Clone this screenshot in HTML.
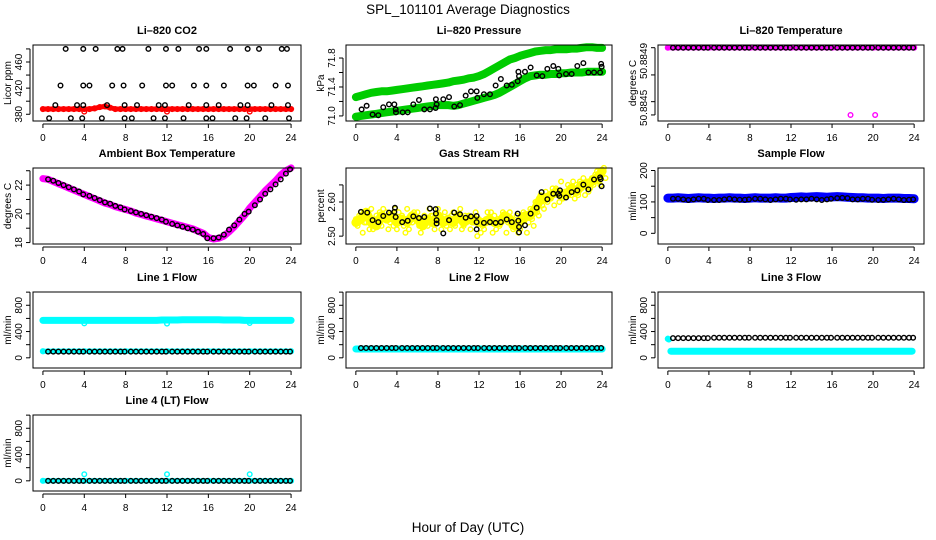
<!DOCTYPE html>
<html><head><meta charset="utf-8"><title>SPL_101101 Average Diagnostics</title>
<style>
html,body{margin:0;padding:0;background:#fff;}
svg{display:block;font-family:"Liberation Sans",Arial,sans-serif;}
</style></head>
<body>
<svg id="chart" width="936" height="540" viewBox="0 0 936 540" xmlns="http://www.w3.org/2000/svg">
<rect width="936" height="540" fill="#fff"/>
<text x="468" y="14" font-size="13.5" text-anchor="middle">SPL_101101  Average Diagnostics</text>
<text x="468" y="532" font-size="13.5" text-anchor="middle">Hour of Day (UTC)</text>
<g id="panels"></g>
</svg>
<script>
// ---------- data ----------
const hours = [0,0.5,1,1.5,2,2.5,3,3.5,4,4.5,5,5.5,6,6.5,7,7.5,8,8.5,9,9.5,10,10.5,11,11.5,12,12.5,13,13.5,14,14.5,15,15.5,16,16.5,17,17.5,18,18.5,19,19.5,20,20.5,21,21.5,22,22.5,23,23.5,24];
const hoursBlack = [0.5,1,1.5,2,2.5,3,3.5,3.9,4.5,5,5.5,6,6.5,7,7.5,7.9,8.5,9,9.5,10,10.5,11,11.5,11.9,12.5,13,13.5,14,14.5,15,15.5,15.9,16.5,17,17.5,18,18.5,19,19.5,19.9,20.5,21,21.5,22,22.5,23,23.5,23.9];
const xTicks = [0,4,8,12,16,20,24];

// CO2
const co2Red = [388,388,388,388,388,388,388,388,388,388,389,391,392,390,388,388,388,388,388,388,388,388,388,388,388,388,388,388,388,388,388,388,388,388,388,388,388,388,388,388,388,388,388,388,388,388,388,388,388];
const co2RedOutX = [4,12,20];
const co2RedOutY = [384,384,384];
const co2BlackX = [2.2,3.9,5.1,7.2,7.7,10.2,11.9,13.1,15.1,15.8,18.1,19.8,20.9,23.1,23.6,
 1.7,3.9,4.5,6.7,7.8,9.6,11.9,12.5,14.6,15.8,17.5,19.8,20.4,22.5,23.7,
 1.2,3.3,3.9,6.2,7.9,9.1,11.2,11.8,14.1,15.8,17.0,19.1,19.8,22.1,23.7,
 0.6,2.7,3.8,5.7,7.9,8.6,10.7,11.8,13.6,15.8,16.4,18.6,19.7,21.5,23.8];
const co2BlackY = [480,480,480,480,480,480,480,480,480,480,480,480,480,480,480,
 424,424,424,424,424,424,424,424,424,424,424,424,424,424,424,
 394,394,394,394,394,394,394,394,394,394,394,394,394,394,394,
 374,374,374,374,374,374,374,374,374,374,374,374,374,374,374];

// Pressure
const presUpper = [71.26,71.28,71.30,71.32,71.33,71.34,71.34,71.35,71.36,71.37,71.38,71.39,71.40,71.41,71.42,71.43,71.44,71.45,71.46,71.48,71.49,71.50,71.52,71.53,71.55,71.58,71.62,71.66,71.70,71.74,71.78,71.80,71.83,71.85,71.87,71.89,71.90,71.91,71.91,71.92,71.92,71.92,71.93,71.93,71.94,71.95,71.95,71.94,71.94];
const presLower = [70.99,71.00,71.01,71.02,71.03,71.04,71.05,71.06,71.07,71.08,71.09,71.10,71.11,71.12,71.13,71.14,71.15,71.15,71.15,71.14,71.15,71.17,71.19,71.21,71.23,71.25,71.27,71.29,71.32,71.36,71.40,71.44,71.48,71.52,71.55,71.56,71.57,71.57,71.58,71.58,71.59,71.59,71.60,71.60,71.60,71.61,71.61,71.61,71.61];
const presBlackX = [0.56,1.05,1.63,2.19,2.67,3.23,3.75,3.88,3.91,4.56,5.05,5.6,6.15,6.67,7.22,7.77,7.8,7.87,8.52,9.08,9.59,10.15,10.7,11.22,11.77,11.84,12.48,13.07,13.62,14.13,14.7,15.2,15.77,15.84,15.9,16.48,17.03,17.62,18.17,18.66,19.24,19.73,19.82,20.48,21.03,21.58,22.17,22.66,23.21,23.8,23.9,23.95];
const presBlackY = [71.09,71.14,71.02,71.01,71.12,71.16,71.16,71.09,71.05,71.05,71.05,71.16,71.22,71.09,71.09,71.11,71.23,71.16,71.23,71.26,71.13,71.15,71.28,71.34,71.34,71.25,71.30,71.30,71.42,71.51,71.42,71.43,71.48,71.61,71.55,71.61,71.67,71.56,71.55,71.65,71.69,71.65,71.56,71.58,71.58,71.69,71.73,71.60,71.60,71.60,71.72,71.68];

// Li-820 temperature
const ltMag = [50.8849,50.8849,50.8849,50.8849,50.8849,50.8849,50.8849,50.8849,50.8849,50.8849,50.8849,50.8849,50.8849,50.8849,50.8849,50.8849,50.8849,50.8849,50.8849,50.8849,50.8849,50.8849,50.8849,50.8849,50.8849,50.8849,50.8849,50.8849,50.8849,50.8849,50.8849,50.8849,50.8849,50.8849,50.8849,50.8849,50.8849,50.8849,50.8849,50.8849,50.8849,50.8849,50.8849,50.8849,50.8849,50.8849,50.8849,50.8849,50.8849];
const ltOutX = [17.8,20.2];
const ltOutY = [50.8845,50.8845];
const ltBlack = [50.8849,50.8849,50.8849,50.8849,50.8849,50.8849,50.8849,50.8849,50.8849,50.8849,50.8849,50.8849,50.8849,50.8849,50.8849,50.8849,50.8849,50.8849,50.8849,50.8849,50.8849,50.8849,50.8849,50.8849,50.8849,50.8849,50.8849,50.8849,50.8849,50.8849,50.8849,50.8849,50.8849,50.8849,50.8849,50.8849,50.8849,50.8849,50.8849,50.8849,50.8849,50.8849,50.8849,50.8849,50.8849,50.8849,50.8849,50.8849];

// Ambient box temperature
const ambMag = [22.45,22.4,22.25,22.1,21.95,21.8,21.65,21.5,21.35,21.2,21.05,20.9,20.75,20.65,20.5,20.4,20.3,20.2,20.05,19.95,19.85,19.75,19.65,19.55,19.45,19.35,19.25,19.15,19.05,18.95,18.8,18.65,18.35,18.25,18.3,18.45,18.75,19.1,19.5,19.9,20.4,20.8,21.2,21.6,21.95,22.3,22.7,23.0,23.2];
const ambBlack = [22.4,22.3,22.15,22.0,21.85,21.7,21.55,21.35,21.25,21.1,20.95,20.8,20.7,20.55,20.45,20.3,20.2,20.1,20.0,19.9,19.8,19.7,19.6,19.45,19.3,19.2,19.1,19.0,18.9,18.75,18.6,18.3,18.3,18.35,18.55,18.9,19.2,19.6,20.0,20.15,20.6,21.0,21.4,21.7,22.05,22.4,22.8,23.1];

// Gas stream RH
const rhA = [2.55,2.57,2.54,2.58,2.56,2.53,2.57,2.55,2.52,2.56,2.58,2.54,2.57,2.55,2.53,2.56,2.58,2.55,2.54,2.57,2.55,2.53,2.56,2.54,2.55,2.52,2.54,2.56,2.53,2.55,2.57,2.54,2.52,2.55,2.58,2.60,2.62,2.63,2.61,2.64,2.66,2.63,2.62,2.65,2.64,2.66,2.67,2.69,2.68];
const rhB = [2.53,2.51,2.56,2.52,2.54,2.58,2.52,2.53,2.57,2.53,2.52,2.57,2.53,2.56,2.58,2.52,2.54,2.57,2.52,2.53,2.58,2.56,2.52,2.57,2.51,2.55,2.57,2.52,2.55,2.51,2.53,2.56,2.55,2.51,2.55,2.57,2.59,2.60,2.64,2.62,2.61,2.65,2.66,2.62,2.67,2.63,2.65,2.66,2.70];
const rhC = [2.56,2.54,2.52,2.55,2.57,2.55,2.54,2.58,2.55,2.51,2.55,2.55,2.51,2.54,2.56,2.55,2.52,2.53,2.56,2.55,2.52,2.55,2.54,2.50,2.53,2.57,2.51,2.55,2.57,2.54,2.52,2.51,2.57,2.54,2.53,2.56,2.58,2.62,2.59,2.60,2.63,2.64,2.61,2.66,2.62,2.64,2.68,2.65,2.67];
const rhD = [2.54,2.55,2.57,2.54,2.53,2.56,2.55,2.56,2.54,2.55,2.54,2.56,2.55,2.53,2.55,2.54,2.56,2.54,2.55,2.54,2.56,2.54,2.55,2.55,2.54,2.54,2.55,2.54,2.54,2.56,2.55,2.53,2.54,2.56,2.56,2.58,2.61,2.61,2.62,2.63,2.62,2.62,2.64,2.63,2.65,2.65,2.66,2.67,2.69];
const rhBlackX = [0.5,1.11,1.63,2.19,2.67,3.23,3.75,3.81,3.88,4.52,5.05,5.6,6.15,6.67,7.22,7.77,7.8,7.87,7.87,8.52,9.08,9.59,10.15,10.7,11.22,11.77,11.77,11.77,12.48,13.07,13.62,14.13,14.7,15.2,15.77,15.83,15.9,15.9,16.48,17.03,17.62,18.1,18.66,19.24,19.73,19.83,19.89,20.48,21.03,21.58,22.17,22.66,23.21,23.8,23.86,23.95];
const rhBlackY = [2.571,2.569,2.547,2.541,2.559,2.569,2.571,2.583,2.556,2.541,2.545,2.558,2.553,2.556,2.581,2.579,2.566,2.547,2.537,2.508,2.547,2.569,2.564,2.554,2.558,2.559,2.541,2.52,2.539,2.541,2.539,2.541,2.549,2.541,2.566,2.545,2.527,2.511,2.532,2.566,2.583,2.629,2.608,2.624,2.624,2.618,2.634,2.613,2.629,2.634,2.651,2.637,2.666,2.672,2.667,2.646];

// Sample flow
const sfBlue = [112,112,113,112,111,112,113,112,112,111,112,112,113,112,112,111,112,113,112,112,112,113,112,112,114,115,116,115,116,117,116,115,116,117,116,115,114,113,113,112,112,112,111,112,112,112,111,111,110];
const sfBlack = [110,110,108,106,108,110,110,106,106,106,108,110,108,107,107,108,110,110,108,106,108,110,110,108,107,108,108,110,108,106,108,110,112,113,112,108,108,110,110,107,106,107,108,110,108,106,107,108];

// Line 1 flow
const l1CyanHigh = [570,570,570,570,570,570,570,570,570,570,570,570,570,570,570,570,570,570,570,570,570,570,570,575,575,575,575,580,580,580,580,580,580,580,580,575,575,575,575,570,570,570,570,570,570,570,570,570,570];
const l1OutX = [4,12,20];
const l1OutY = [525,520,530];
const l1CyanLow = [100,100,100,100,100,100,100,100,100,100,100,100,100,100,100,100,100,100,100,100,100,100,100,100,100,100,100,100,100,100,100,100,100,100,100,100,100,100,100,100,100,100,100,100,100,100,100,100,100];
const l1Black = [95,95,95,95,95,95,95,95,95,95,95,95,95,95,95,95,95,95,95,95,95,95,95,95,95,95,95,95,95,95,95,95,95,95,95,95,95,95,95,95,95,95,95,95,95,95,95,95];

// Line 2 flow
const l2Cyan = [135,135,135,135,135,135,135,135,135,135,135,135,135,135,135,135,135,135,135,135,135,135,135,135,135,135,135,135,135,135,135,135,135,135,135,135,135,135,135,135,135,135,135,135,135,135,135,135,135];
const l2Black = [150,150,150,150,150,150,150,150,150,150,150,150,150,150,150,150,150,150,150,150,150,150,150,150,150,150,150,150,150,150,150,150,150,150,150,150,150,150,150,150,150,150,150,150,150,150,150,150];

// Line 3 flow
const l3CyanX = [0.3,0.5,1,1.5,2,2.5,3,3.5,4,4.5,5,5.5,6,6.5,7,7.5,8,8.5,9,9.5,10,10.5,11,11.5,12,12.5,13,13.5,14,14.5,15,15.5,16,16.5,17,17.5,18,18.5,19,19.5,20,20.5,21,21.5,22,22.5,23,23.5,23.8];
const l3Cyan = [100,100,100,100,100,100,100,100,100,100,100,100,100,100,100,100,100,100,100,100,100,100,100,100,100,100,100,100,100,100,100,100,100,100,100,100,100,100,100,100,100,100,100,100,100,100,100,100,100];
const l3OutX = [0,0.1];
const l3OutY = [290,280];
const l3Black = [300,300,300,300,300,300,300,300,305,305,305,305,305,305,305,305,305,305,305,305,305,305,305,305,305,305,305,305,305,305,305,305,305,305,305,305,305,305,305,305,305,305,305,305,305,305,305,305];

// Line 4 flow
const l4Cyan = [0,0,0,0,0,0,0,0,0,0,0,0,0,0,0,0,0,0,0,0,0,0,0,0,0,0,0,0,0,0,0,0,0,0,0,0,0,0,0,0,0,0,0,0,0,0,0,0,0];
const l4OutX = [4,12,20];
const l4OutY = [100,100,100];
const l4Black = [0,0,0,0,0,0,0,0,0,0,0,0,0,0,0,0,0,0,0,0,0,0,0,0,0,0,0,0,0,0,0,0,0,0,0,0,0,0,0,0,0,0,0,0,0,0,0,0];

// tick arrays
const co2Ticks = [380,400,420,440,460,480];
const co2Labels = ["380","","420","","460",""];
const presTicks = [71.0,71.2,71.4,71.6,71.8];
const presLabels = ["71.0","","71.4","","71.8"];
const ltTicks = [50.8849,50.884738,50.884579,50.8845];
const ltLabels = ["","","",""];
const ltLabelVals = [50.884821,50.884542];
const ltLabelText = ["50.8849","50.8845"];
const ambTicks = [18,19,20,21,22,23];
const ambLabels = ["18","","20","","22",""];
const rhTicks = [2.50,2.55,2.60,2.65];
const rhLabels = ["2.50","","2.60",""];
const sfTicks = [0,50,100,150,200];
const sfLabels = ["0","","100","","200"];
const flowTicks = [0,200,400,600,800,1000];
const flowLabels = ["0","","400","","800",""];

// ---------- drawing ----------
const NS = 'http://www.w3.org/2000/svg';
const root = document.getElementById('panels');
const colX = [[33,301],[346,612],[658,924]];
const rowY = [45,168,292,415];
const PH = 76;
const XMIN = -0.96, XMAX = 24.96;

function mk(tag, attrs, parent){
  const e = document.createElementNS(NS, tag);
  for (const k in attrs) e.setAttribute(k, attrs[k]);
  parent.appendChild(e);
  return e;
}

const panels = [
 {key:'co2', title:'Li\u2013820 CO2', ylab:'Licor ppm', c:0, r:0, ymin:369.7, ymax:486, ticks:co2Ticks, labels:co2Labels,
  series:[{x:hours,y:co2Red,col:'#ff0000',band:5},{x:co2RedOutX,y:co2RedOutY,col:'#ff0000'},{x:co2BlackX,y:co2BlackY,col:'#000'}]},
 {key:'pressure', title:'Li\u2013820 Pressure', ylab:'kPa', c:1, r:0, ymin:70.93, ymax:71.98, ticks:presTicks, labels:presLabels,
  series:[{x:hours,y:presUpper,col:'#00cc00',band:8},{x:hours,y:presLower,col:'#00cc00',band:8},{x:presBlackX,y:presBlackY,col:'#000'}]},
 {key:'li-temp', title:'Li\u2013820 Temperature', ylab:'degrees C', c:2, r:0, ymin:50.884464, ymax:50.884916, ticks:ltTicks, labels:ltLabels, extraLabels:true,
  series:[{x:hours,y:ltMag,col:'#ff00ff',band:5},{x:ltOutX,y:ltOutY,col:'#ff00ff'},{x:hoursBlack,y:ltBlack,col:'#000'}]},
 {key:'ambient', title:'Ambient Box Temperature', ylab:'degrees C', c:0, r:1, ymin:17.9, ymax:23.19, ticks:ambTicks, labels:ambLabels,
  series:[{x:hours,y:ambMag,col:'#ff00ff',band:7},{x:hoursBlack,y:ambBlack,col:'#000'}]},
 {key:'rh', title:'Gas Stream RH', ylab:'percent', c:1, r:1, ymin:2.477, ymax:2.6995, ticks:rhTicks, labels:rhLabels,
  series:[{x:hours,y:rhD,col:'#ffff00',band:9},{x:hours,y:rhA,col:'#ffff00'},{x:hours,y:rhB,col:'#ffff00',shift:0.17},{x:hours,y:rhC,col:'#ffff00',shift:0.33},{x:rhBlackX,y:rhBlackY,col:'#000'}]},
 {key:'sample-flow', title:'Sample Flow', ylab:'ml/min', c:2, r:1, ymin:-34, ymax:208, ticks:sfTicks, labels:sfLabels,
  series:[{x:hours,y:sfBlue,col:'#0000ff',band:9},{x:hoursBlack,y:sfBlack,col:'#000'}]},
 {key:'line1', title:'Line 1 Flow', ylab:'ml/min', c:0, r:2, ymin:-155, ymax:1002, ticks:flowTicks, labels:flowLabels,
  series:[{x:hours,y:l1CyanHigh,col:'#00ffff',band:7},{x:l1OutX,y:l1OutY,col:'#00ffff'},{x:hours,y:l1CyanLow,col:'#00ffff',band:5},{x:hoursBlack,y:l1Black,col:'#000'}]},
 {key:'line2', title:'Line 2 Flow', ylab:'ml/min', c:1, r:2, ymin:-155, ymax:1002, ticks:flowTicks, labels:flowLabels,
  series:[{x:hours,y:l2Cyan,col:'#00ffff',band:7},{x:hoursBlack,y:l2Black,col:'#000'}]},
 {key:'line3', title:'Line 3 Flow', ylab:'ml/min', c:2, r:2, ymin:-155, ymax:1002, ticks:flowTicks, labels:flowLabels,
  series:[{x:l3CyanX,y:l3Cyan,col:'#00ffff',band:7},{x:l3OutX,y:l3OutY,col:'#00ffff',band:6},{x:hoursBlack,y:l3Black,col:'#000'}]},
 {key:'line4', title:'Line 4 (LT) Flow', ylab:'ml/min', c:0, r:3, ymin:-155, ymax:1002, ticks:flowTicks, labels:flowLabels,
  series:[{x:hours,y:l4Cyan,col:'#00ffff',band:5},{x:l4OutX,y:l4OutY,col:'#00ffff'},{x:hoursBlack,y:l4Black,col:'#000'}]}
];

panels.forEach(p => {
  const x0 = colX[p.c][0], x1 = colX[p.c][1];
  const y0 = rowY[p.r], y1 = y0 + PH;
  const sx = v => x0 + (v - XMIN) / (XMAX - XMIN) * (x1 - x0);
  const sy = v => y1 - (v - p.ymin) / (p.ymax - p.ymin) * (y1 - y0);
  const g = mk('g', {}, root);
  
  

  const t = mk('text', {x:(x0+x1)/2, y:y0-11, 'font-size':11, 'font-weight':'bold', 'text-anchor':'middle'}, g);
  t.textContent = p.title;
  
  

  const yl = mk('text', {x:0, y:0, 'font-size':10, 'text-anchor':'middle', transform:'translate(' + (x0-22) + ',' + ((y0+y1)/2) + ') rotate(-90)'}, g);
  yl.textContent = p.ylab;
  
  

  const pts = mk('g', {}, g);
  
  
  p.series.forEach(s => {
    const n = Math.min(s.x.length, s.y.length);
    if (s.band) {
      const d = [];
      for (let i = 0; i < n; i++) d.push(sx(s.x[i] + (s.shift||0)).toFixed(1) + ',' + sy(s.y[i]).toFixed(1));
      const pl = mk('polyline', {points:d.join(' '), fill:'none', stroke:s.col, 'stroke-width':s.band, 'stroke-linecap':'round', 'stroke-linejoin':'round'}, pts);
      
      
    }
    for (let i = 0; i < n; i++) {
      const c = mk('circle', {cx:sx(s.x[i] + (s.shift||0)), cy:sy(s.y[i]), r:2.3, fill:'none', stroke:s.col, 'stroke-width': s.band ? 1.6 : 1.4}, pts);
      
      
    }
  });

  const b = mk('rect', {x:x0, y:y0, width:x1-x0, height:y1-y0, fill:'none', stroke:'#000', 'stroke-width':1}, g);
  
  

  const xa = mk('g', {}, g);
  
  
  mk('line', {x1:sx(xTicks[0]), x2:sx(xTicks[xTicks.length-1]), y1:y1+3, y2:y1+3, stroke:'#000'}, xa);
  xTicks.forEach(v => {
    mk('line', {x1:sx(v), x2:sx(v), y1:y1+3, y2:y1+7, stroke:'#000'}, xa);
    const tl = mk('text', {x:sx(v), y:y1+20, 'font-size':10, 'text-anchor':'middle'}, xa);
    tl.textContent = String(v);
    
    
  });

  const ya = mk('g', {}, g);
  
  
  mk('line', {x1:x0-3, x2:x0-3, y1:sy(p.ticks[0]), y2:sy(p.ticks[p.ticks.length-1]), stroke:'#000'}, ya);
  p.ticks.forEach((v, i) => {
    mk('line', {x1:x0-7, x2:x0-3, y1:sy(v), y2:sy(v), stroke:'#000'}, ya);
    if (p.labels[i]) {
      const tl = mk('text', {x:0, y:0, 'font-size':10, 'text-anchor':'middle', transform:'translate(' + (x0-11) + ',' + sy(v) + ') rotate(-90)'}, ya);
      tl.textContent = p.labels[i];
      
      
    }
  });
  if (p.extraLabels) {
    ltLabelVals.forEach((v, i) => {
      const tl = mk('text', {x:0, y:0, 'font-size':10, 'text-anchor':'middle', transform:'translate(' + (x0-11) + ',' + sy(v) + ') rotate(-90)'}, ya);
      tl.textContent = ltLabelText[i];
      
      
    });
  }
});
</script>
</body></html>
